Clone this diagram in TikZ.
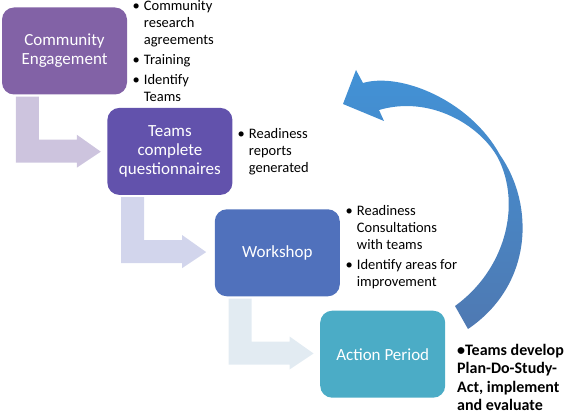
\documentclass[tikz,border=0pt]{standalone}
\usepackage{fontspec}
\setmainfont{Carlito}
\usetikzlibrary{positioning}
\definecolor{engage}{RGB}{130,98,166}
\definecolor{teams}{RGB}{98,82,172}
\definecolor{workshop}{RGB}{80,113,188}
\definecolor{action}{RGB}{75,172,198}
\definecolor{bentA}{RGB}{205,196,222}
\definecolor{bentB}{RGB}{210,213,236}
\definecolor{bentC}{RGB}{226,235,242}
\definecolor{loopTop}{RGB}{66,146,214}
\definecolor{loopBot}{RGB}{79,121,178}
\tikzset{
    stage/.style={rectangle, rounded corners=12pt, minimum width=125pt, minimum height=87pt, text=white, align=center, font=\fontsize{17}{19}\selectfont, inner sep=2pt},
    notes/.style={anchor=base west, inner sep=0pt, font=\fontsize{14.5}{17}\selectfont},
    boldnotes/.style={anchor=base west, inner sep=0pt, font=\fontsize{16}{18.5}\selectfont\bfseries}
}
\begin{document}
\begin{tikzpicture}[x=1pt, y=-1pt]
    \useasboundingbox (0,0) rectangle (567,414);

    % Stages
    \node[stage, fill=engage] (ce) at (64.5,51) {Community\\Engagement};
    \node[stage, fill=teams, below right=13pt and -20pt of ce] (tq) {Teams\\complete\\questionnaires};
    \node[stage, fill=workshop, below right=14pt and -18pt of tq] (ws) {Workshop};
    \node[stage, fill=action, below right=14pt and -20pt of ws] (ap) {Action Period};

    % Bent arrows between stages
    \foreach \from/\col in {ce/bentA, tq/bentB, ws/bentC}{
        \fill[\col] ([shift={(14,2)}]\from.south west) -- ++(23,0) -- ++(0,43) -- ++(38,0) -- ++(0,-5)
            -- ++(24,17) -- ++(-24,16) -- ++(0,-5) -- ++(-61,0) -- cycle;
    }

    % Notes
    \node[notes] (ceNotes) at (132.5,11) {\begin{tabular}[t]{@{}l@{\hspace{4pt}}l@{}}
        \textbullet & Community\\ & research\\ & agreements\\[3pt]
        \textbullet & Training\\[3pt]
        \textbullet & Identify\\ & Teams
    \end{tabular}};
    \node[notes] (tqNotes) at (237.5,139) {\begin{tabular}[t]{@{}l@{\hspace{4pt}}l@{}}
        \textbullet & Readiness\\ & reports\\ & generated
    \end{tabular}};
    \node[notes] (wsNotes) at (345.5,215) {\begin{tabular}[t]{@{}l@{\hspace{4pt}}l@{}}
        \textbullet & Readiness\\ & Consultations\\ & with teams\\[3pt]
        \textbullet & Identify areas for\\ & improvement
    \end{tabular}};
    \node[boldnotes] (apNotes) at (457,355) {\begin{tabular}[t]{@{}l@{}}
        \textbullet Teams develop\\ Plan-Do-Study-\\ Act, implement\\ and evaluate
    \end{tabular}};

    % Cycle arrow
    \shade[top color=loopTop, bottom color=loopBot]
        (343,104) -- (356,70) -- (363,83)
        .. controls (400,72) and (470,100) .. (500,155)
        .. controls (535,205) and (533,285) .. (468,329)
        -- (455,306)
        .. controls (505,270) and (522,205) .. (498,158)
        .. controls (480,125) and (430,95) .. (379,110)
        -- (384,121) -- cycle;
\end{tikzpicture}
\end{document}
